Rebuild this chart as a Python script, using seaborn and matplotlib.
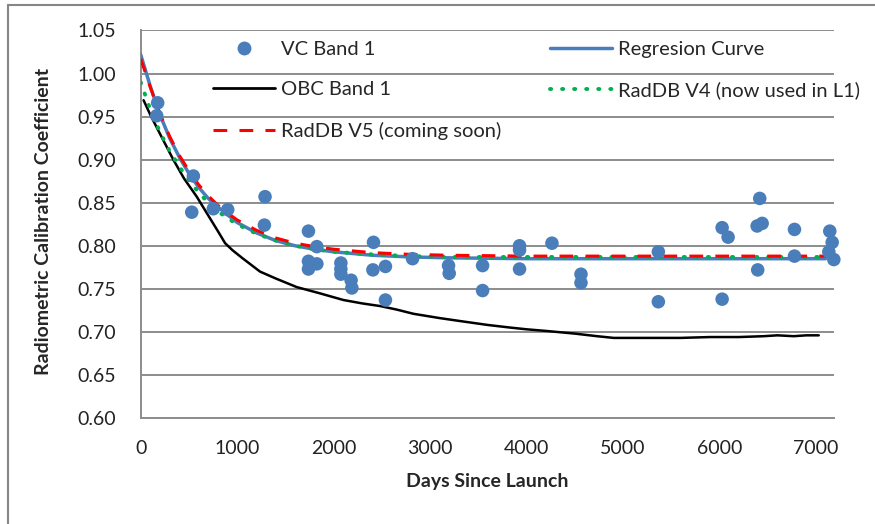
import matplotlib
matplotlib.use("Agg")
import matplotlib.pyplot as plt
from matplotlib.lines import Line2D
import seaborn as sns
import pandas as pd

# VC Band 1 measurements (days since launch, coefficient)
vc_days = [176, 166, 546, 529, 753, 902, 1289, 1282, 1739, 1826, 1739, 1739,
           1826, 2075, 2075, 2075, 2181, 2189, 2413, 2407, 2537, 2537, 2818,
           3191, 3198, 3544, 3544, 3927, 3927, 3927, 4263, 4564, 4564, 5366,
           5366, 6027, 6089, 6027, 6390, 6442, 6417, 6396, 6777, 6777, 7143,
           7168, 7133, 7185]
vc_coef = [0.966, 0.951, 0.881, 0.839, 0.843, 0.842, 0.857, 0.824, 0.817, 0.799,
           0.782, 0.773, 0.779, 0.780, 0.773, 0.767, 0.760, 0.751, 0.804, 0.772,
           0.776, 0.737, 0.785, 0.777, 0.768, 0.777, 0.748, 0.800, 0.795, 0.773,
           0.803, 0.767, 0.757, 0.793, 0.735, 0.821, 0.810, 0.738, 0.823, 0.826,
           0.855, 0.772, 0.819, 0.788, 0.817, 0.804, 0.793, 0.784]

# fitted / database curves
curve_days = [0, 100, 200, 300, 400, 500, 600, 700, 800, 900, 1000, 1200, 1400,
              1600, 1800, 2000, 2400, 2800, 3200, 4000, 5000, 6000, 7100]
regression = [1.022, 0.985, 0.952, 0.925, 0.903, 0.884, 0.868, 0.855, 0.845,
              0.836, 0.827, 0.815, 0.806, 0.800, 0.796, 0.793, 0.789, 0.787,
              0.786, 0.785, 0.785, 0.785, 0.785]
raddb_v5 = [1.017, 0.984, 0.953, 0.927, 0.905, 0.887, 0.871, 0.858, 0.847,
            0.838, 0.830, 0.818, 0.809, 0.803, 0.799, 0.796, 0.792, 0.790,
            0.789, 0.788, 0.788, 0.788, 0.788]
raddb_v4 = [0.990, 0.958, 0.932, 0.910, 0.892, 0.876, 0.862, 0.850, 0.840,
            0.832, 0.825, 0.814, 0.806, 0.800, 0.796, 0.793, 0.790, 0.788,
            0.787, 0.787, 0.787, 0.787, 0.787]

# on-board calibrator trend
obc_days = [30, 100, 200, 338, 450, 581, 685, 800, 875, 950, 1050, 1237, 1400,
            1618, 1850, 2102, 2300, 2482, 2650, 2828, 3100, 3347, 3600, 3831,
            4000, 4212, 4500, 4730, 4903, 5200, 5594, 5900, 6200, 6459, 6600,
            6770, 6900, 7029]
obc_coef = [0.969, 0.952, 0.930, 0.900, 0.878, 0.857, 0.838, 0.817, 0.803,
            0.795, 0.786, 0.770, 0.762, 0.752, 0.745, 0.737, 0.733, 0.730,
            0.726, 0.721, 0.716, 0.712, 0.708, 0.705, 0.703, 0.701, 0.698,
            0.695, 0.693, 0.693, 0.693, 0.694, 0.694, 0.695, 0.696, 0.695,
            0.696, 0.696]

y_ticks = [0.60, 0.65, 0.70, 0.75, 0.80, 0.85, 0.90, 0.95, 1.00, 1.05]
x_ticks = [0, 1000, 2000, 3000, 4000, 5000, 6000, 7000]

sns.set_style("white")
plt.rcParams['font.family'] = ['Lato', 'DejaVu Sans']

blue = '#4A7EBB'
grid_gray = '#8C8C8C'

fig = plt.figure(figsize=(8.75, 5.24), dpi=100)
ax = fig.add_axes([0.1608, 0.2023, 0.7927, 0.7395])

vc_df = pd.DataFrame({'days': vc_days, 'coef': vc_coef})
curves_df = pd.DataFrame({'days': curve_days, 'reg': regression,
                          'v4': raddb_v4, 'v5': raddb_v5})
obc_df = pd.DataFrame({'days': obc_days, 'coef': obc_coef})

sns.lineplot(data=curves_df, x='days', y='reg', ax=ax, color=blue, lw=2.5, zorder=3)
sns.lineplot(data=obc_df, x='days', y='coef', ax=ax, color='black', lw=1.8, zorder=3)
sns.lineplot(data=curves_df, x='days', y='v4', ax=ax, color='#00B050', lw=2.8,
             zorder=4)
ax.lines[-1].set_linestyle((0, (0.3, 2.8)))
ax.lines[-1].set_dash_capstyle('round')
sns.lineplot(data=curves_df, x='days', y='v5', ax=ax, color='#FF0000', lw=2.2, zorder=5)
ax.lines[-1].set_linestyle((0, (4.5, 4.0)))
sns.scatterplot(data=vc_df, x='days', y='coef', ax=ax, color=blue, s=95,
                edgecolor='none', zorder=6, clip_on=False)

ax.set_xlim(0, 7190)
ax.set_ylim(0.60, 1.05)
ax.set_xticks(x_ticks)
ax.set_yticks(y_ticks)
ax.set_yticklabels([f'{v:.2f}' for v in y_ticks])
ax.yaxis.grid(True, color=grid_gray, lw=1.4)
ax.xaxis.grid(False)
ax.set_axisbelow(True)

for side in ['top', 'right']:
    ax.spines[side].set_visible(False)
for side in ['left', 'bottom']:
    ax.spines[side].set_color(grid_gray)
    ax.spines[side].set_linewidth(1.4)

ax.tick_params(axis='both', which='major', direction='out', length=5,
               width=1.2, color=grid_gray, labelsize=14, labelcolor='#222222')
ax.tick_params(axis='y', pad=13)
ax.tick_params(axis='x', pad=11)

ax.set_xlabel('Days Since Launch', fontsize=14, fontweight='bold')
ax.set_ylabel('Radiometric Calibration Coefficient', fontsize=14, fontweight='bold')
ax.xaxis.set_label_coords(0.499, -0.143)
ax.yaxis.set_label_coords(-0.128, 0.506)

handles = [
    Line2D([], [], ls='none', marker='o', ms=10, color=blue, mec='none'),
    Line2D([], [], color='black', lw=2),
    Line2D([], [], color='#FF0000', lw=2.2, ls=(0, (4.5, 4.0))),
    Line2D([], [], color=blue, lw=2.5),
    Line2D([], [], color='#00B050', lw=2.8, ls=(0, (0.3, 2.8)), dash_capstyle='round'),
]
labels = ['VC Band 1', 'OBC Band 1', 'RadDB V5 (coming soon)',
          'Regresion Curve', 'RadDB V4 (now used in L1)']
ax.legend(handles, labels, ncol=2, loc='upper left', bbox_to_anchor=(0.104, 0.974),
          frameon=False, borderpad=0, borderaxespad=0, fontsize=14.5,
          handlelength=3.1, handletextpad=0.3, labelspacing=1.16,
          columnspacing=2.4)

# chart area border (only left and top edges fall inside the picture)
fig.add_artist(Line2D([8 / 875, 8 / 875], [0, 1 - 5 / 524], transform=fig.transFigure,
                      color='#868686', lw=1.5))
fig.add_artist(Line2D([8 / 875, 1], [1 - 5 / 524, 1 - 5 / 524], transform=fig.transFigure,
                      color='#868686', lw=1.5))

fig.savefig('out.png', dpi=100)
